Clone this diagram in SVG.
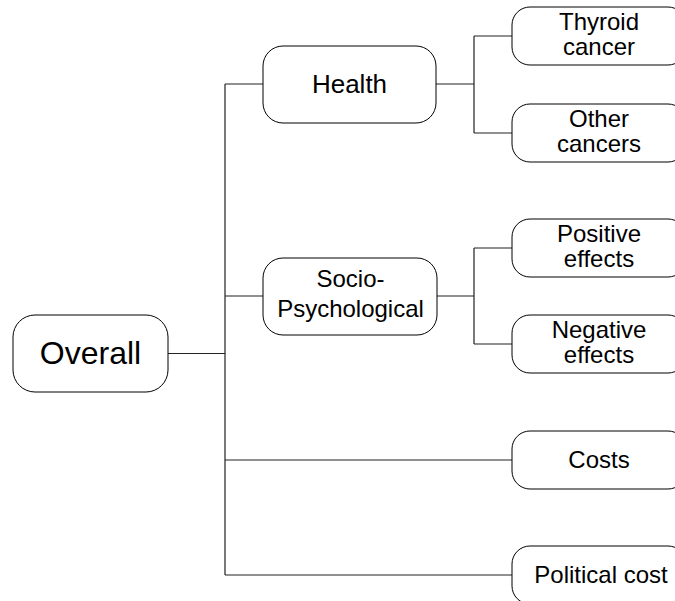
<svg xmlns="http://www.w3.org/2000/svg" width="675" height="601" viewBox="0 0 675 601">
<style>
.box{fill:#fff;stroke:#000;stroke-width:1}
.t{font-family:"Liberation Sans",Arial,sans-serif;fill:#000;text-anchor:middle}
.c{fill:none;stroke:#222;stroke-width:1.2}
</style>
<rect width="675" height="601" fill="#fff"/>
<g id="connectors">
<path class="c" d="M168,353.5H225M225,84V575M225,84H263M225,296H263M225,460H512M225,575H512"/>
<path class="c" d="M436,84H474M474,36V133M474,36H512M474,133H512"/>
<path class="c" d="M437,296H474M474,248V344M474,248H512M474,344H512"/>
</g>
<g id="overall"><rect class="box" x="13" y="315" width="155" height="77" rx="22"/><text class="t" x="90.5" y="364" font-size="32">Overall</text></g>
<g id="health"><rect class="box" x="263" y="46" width="173" height="77" rx="20"/><text class="t" x="349.5" y="93" font-size="26">Health</text></g>
<g id="socio"><rect class="box" x="263" y="258" width="174" height="77" rx="20"/><text class="t" x="350.5" y="287" font-size="24">Socio-</text><text class="t" x="350.5" y="317" font-size="24">Psychological</text></g>
<g id="thyroid"><rect class="box" x="512" y="7" width="174" height="58" rx="18"/><text class="t" x="599" y="30" font-size="24">Thyroid</text><text class="t" x="599" y="55" font-size="24">cancer</text></g>
<g id="other"><rect class="box" x="512" y="104" width="174" height="58" rx="18"/><text class="t" x="599" y="127" font-size="24">Other</text><text class="t" x="599" y="152" font-size="24">cancers</text></g>
<g id="positive"><rect class="box" x="512" y="219" width="174" height="58" rx="18"/><text class="t" x="599" y="242" font-size="24">Positive</text><text class="t" x="599" y="267" font-size="24">effects</text></g>
<g id="negative"><rect class="box" x="512" y="315" width="174" height="58" rx="18"/><text class="t" x="599" y="338" font-size="24">Negative</text><text class="t" x="599" y="363" font-size="24">effects</text></g>
<g id="costs"><rect class="box" x="512" y="431" width="174" height="58" rx="18"/><text class="t" x="599" y="468" font-size="24">Costs</text></g>
<g id="political"><rect class="box" x="512" y="546" width="174" height="58" rx="18"/><text class="t" x="601" y="583" font-size="24">Political cost</text></g>
</svg>
